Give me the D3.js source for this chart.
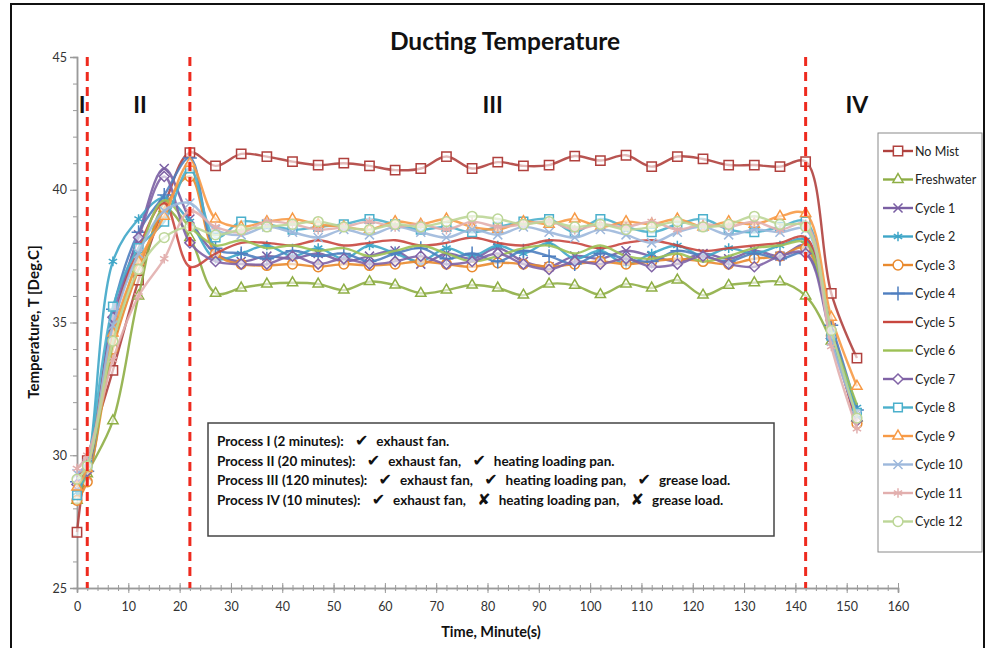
<!DOCTYPE html>
<html>
<head>
<meta charset="utf-8">
<script src="https://cdn.jsdelivr.net/npm/d3@7"></script>
<style>
  body { margin: 0; background: #fff; }
  text { font-family: Lato, "Open Sans", "DejaVu Sans", sans-serif; }
</style>
</head>
<body>
<svg id="chart" width="990" height="648"></svg>
<script>
const times = [0, 2, 7, 12, 17, 22, 27, 32, 37, 42, 47, 52, 57, 62, 67, 72, 77, 82, 87, 92, 97, 102, 107, 112, 117, 122, 127, 132, 137, 142, 147, 152];

const noMist = [27.1, 29.8, 33.2, 36.6, 39.4, 41.4, 40.9, 41.35, 41.25, 41.06, 40.93, 41.0, 40.9, 40.74, 40.8, 41.25, 40.8, 41.04, 40.9, 40.93, 41.27, 41.1, 41.3, 40.87, 41.25, 41.16, 40.93, 40.93, 40.87, 41.06, 36.1, 33.66];
const freshwater = [28.3, 29.3, 31.3, 36.0, 39.3, 38.2, 36.1, 36.3, 36.45, 36.5, 36.45, 36.22, 36.54, 36.41, 36.1, 36.22, 36.41, 36.3, 36.03, 36.45, 36.4, 36.05, 36.45, 36.3, 36.6, 36.03, 36.4, 36.5, 36.53, 36.0, 34.3, 31.4];
const cycle1 = [28.8, 29.2, 34.8, 38.3, 40.8, 38.9, 37.6, 37.3, 37.5, 37.4, 37.6, 37.3, 37.5, 37.7, 37.2, 37.6, 37.4, 37.8, 37.3, 37.1, 37.5, 37.4, 37.7, 37.5, 37.3, 37.6, 37.4, 37.7, 37.5, 37.9, 34.8, 31.6];
const cycle2 = [28.6, 29.5, 37.3, 38.9, 39.7, 38.8, 37.4, 37.6, 37.9, 37.5, 37.8, 37.4, 37.9, 37.6, 37.3, 37.8, 37.5, 37.9, 37.6, 38.0, 37.4, 37.7, 37.2, 37.6, 37.9, 37.5, 37.8, 37.6, 37.9, 38.1, 34.6, 31.8];
const cycle3 = [28.3, 29.0, 34.0, 37.0, 39.3, 40.5, 37.6, 37.2, 37.15, 37.2, 37.1, 37.2, 37.15, 37.2, 37.3, 37.2, 37.1, 37.25, 37.2, 37.1, 37.2, 37.3, 37.2, 37.3, 37.4, 37.3, 37.2, 37.4, 37.5, 37.8, 34.5, 31.2];
const cycle4 = [29.0, 29.4, 35.5, 38.4, 39.8, 41.2, 37.8, 37.6, 37.4, 37.7, 37.5, 37.6, 37.3, 37.6, 37.8, 37.4, 37.6, 37.3, 37.7, 37.5, 37.2, 37.6, 37.4, 37.3, 37.7, 37.5, 37.3, 37.6, 37.4, 37.6, 34.9, 31.7];
const cycle5 = [29.2, 29.8, 35.0, 37.8, 39.5, 37.1, 37.6, 38.0, 38.0, 37.9, 38.1, 37.9, 38.0, 38.1, 37.9, 38.0, 38.2, 38.0, 37.9, 38.1, 38.0, 37.8, 38.0, 38.1, 37.9, 37.7, 37.8, 37.9, 38.0, 38.2, 34.7, 31.1];
const cycle6 = [28.7, 29.3, 34.2, 37.5, 39.6, 38.6, 37.9, 38.1, 37.8, 37.9, 37.7, 37.8, 37.5, 37.7, 37.9, 37.6, 37.3, 37.5, 37.8, 37.9, 37.6, 37.9, 37.5, 37.4, 37.6, 37.3, 37.5, 37.8, 37.9, 38.0, 34.6, 31.9];
const cycle7 = [28.9, 29.4, 35.2, 38.2, 40.5, 38.0, 37.3, 37.2, 37.2, 37.5, 37.2, 37.4, 37.2, 37.3, 37.5, 37.2, 37.3, 37.6, 37.2, 37.0, 37.3, 37.2, 37.4, 37.1, 37.2, 37.5, 37.2, 37.1, 37.5, 37.6, 34.4, 31.3];
const cycle8 = [28.5, 29.6, 35.6, 37.8, 38.8, 40.8, 38.2, 38.8, 38.7, 38.5, 38.6, 38.7, 38.9, 38.7, 38.5, 38.6, 38.4, 38.6, 38.8, 38.9, 38.4, 38.9, 38.6, 38.4, 38.7, 38.9, 38.5, 38.4, 38.6, 38.8, 34.5, 31.6];
const cycle9 = [28.8, 29.5, 34.6, 37.3, 39.0, 41.0, 38.9, 38.6, 38.8, 38.9, 38.7, 38.6, 38.5, 38.8, 38.7, 38.9, 38.6, 38.5, 38.8, 38.7, 38.9, 38.6, 38.8, 38.7, 38.9, 38.6, 38.8, 38.7, 39.0, 39.1, 35.2, 32.6];
const cycle10 = [29.3, 29.7, 34.9, 37.6, 39.2, 39.5, 38.5, 38.3, 38.6, 38.4, 38.2, 38.5, 38.3, 38.6, 38.4, 38.2, 38.5, 38.3, 38.6, 38.4, 38.2, 38.5, 38.3, 38.0, 38.4, 38.6, 38.3, 38.5, 38.4, 38.5, 34.3, 31.5];
const cycle11 = [29.5, 30.0, 33.6, 36.0, 37.4, 39.2, 38.6, 38.4, 38.8, 38.7, 38.5, 38.6, 38.8, 38.6, 38.7, 38.5, 38.8, 38.6, 38.7, 38.8, 38.5, 38.7, 38.6, 38.8, 38.5, 38.7, 38.6, 38.8, 38.5, 38.7, 34.1, 31.0];
const cycle12 = [29.1, 29.6, 34.3, 37.0, 38.2, 38.6, 38.3, 38.5, 38.6, 38.7, 38.8, 38.6, 38.5, 38.7, 38.6, 38.8, 39.0, 38.9, 38.7, 38.8, 38.6, 38.7, 38.5, 38.6, 38.8, 38.6, 38.7, 39.0, 38.7, 38.6, 34.7, 31.4];

const seriesNames = ["No Mist", "Freshwater", "Cycle 1", "Cycle 2", "Cycle 3", "Cycle 4", "Cycle 5", "Cycle 6", "Cycle 7", "Cycle 8", "Cycle 9", "Cycle 10", "Cycle 11", "Cycle 12"];
const seriesValues = [noMist, freshwater, cycle1, cycle2, cycle3, cycle4, cycle5, cycle6, cycle7, cycle8, cycle9, cycle10, cycle11, cycle12];

const phaseBounds = [2, 22, 142];
const phaseLabels = [["I", 1], ["II", 12.3], ["III", 81], ["IV", 152]];
const xTicks = d3.range(0, 161, 10);
const yTicks = [25, 30, 35, 40, 45];
const notes = [
	["Process I (2 minutes): ", "✔", "exhaust fan."],
	["Process II (20 minutes): ", "✔", "exhaust fan, ", "✔", "heating loading pan."],
	["Process III (120 minutes): ", "✔", "exhaust fan, ", "✔", "heating loading pan, ", "✔", "grease load."],
	["Process IV (10 minutes): ", "✔", "exhaust fan, ", "✘", "heating loading pan, ", "✘", "grease load."],
];

const colors = ["#B0413E", "#8EAE45", "#7A5FA3", "#3FA6C8", "#E98A2E", "#4F7FC0", "#C8473F", "#9CC155", "#8063A6", "#4BB0CC", "#F79A46", "#9DB8DC", "#E2AFAE", "#BCD697"];
const shapes = [d3.symbolSquare2 || d3.symbolSquare, d3.symbolTriangle2 || d3.symbolTriangle, d3.symbolTimes || d3.symbolCross, d3.symbolAsterisk || d3.symbolCross, d3.symbolCircle, d3.symbolPlus || d3.symbolCross, null, null, d3.symbolDiamond2 || d3.symbolDiamond, d3.symbolSquare2 || d3.symbolSquare, d3.symbolTriangle2 || d3.symbolTriangle, d3.symbolTimes || d3.symbolCross, d3.symbolAsterisk || d3.symbolCross, d3.symbolCircle];
const shapeSize = [110, 75, 55, 65, 75, 65, 0, 0, 65, 95, 75, 55, 65, 75];

const svg = d3.select("#chart");

// outer frame of the screenshot
svg.append("path")
	.attr("d", "M11,660V4H984V660")
	.attr("fill", "none")
	.attr("stroke", "#111")
	.attr("stroke-width", 2);

const x = d3.scaleLinear().domain([0, 160]).range([77, 898]);
const y = d3.scaleLinear().domain([25, 45]).range([588, 57]);

// axes
const gx = svg.append("g").attr("transform", `translate(0,${y(25)})`);
gx.call(d3.axisBottom(x).tickValues(d3.range(0, 161, 2)).tickSize(4).tickFormat(""));
gx.call((g) => g.selectAll(".tick line").attr("y1", -3).attr("y2", 3));
const gx2 = svg.append("g").attr("transform", `translate(0,${y(25)})`);
gx2.call(d3.axisBottom(x).tickValues(xTicks).tickSize(5));
gx2.call((g) => g.selectAll(".tick line").attr("y1", -5).attr("y2", 5));
gx2.call((g) => g.selectAll(".tick text").attr("dy", 0).attr("y", 23).style("font-size", "12.5px").attr("fill", "#333"));
[gx, gx2].forEach((g) => {
	g.select(".domain").attr("stroke", "#9a9a9a").attr("stroke-width", 1.5);
	g.selectAll(".tick line").attr("stroke", "#9a9a9a");
});

const gy = svg.append("g").attr("transform", `translate(${x(0)},0)`);
gy.call(d3.axisLeft(y).tickValues(d3.range(25, 46, 1)).tickSize(4).tickFormat(""));
const gy2 = svg.append("g").attr("transform", `translate(${x(0)},0)`);
gy2.call(d3.axisLeft(y).tickValues(yTicks).tickSize(7));
gy2.call((g) => g.selectAll(".tick text").attr("x", -10).style("font-size", "12.5px").attr("fill", "#333"));
[gy, gy2].forEach((g) => {
	g.select(".domain").attr("stroke", "#9a9a9a").attr("stroke-width", 1.5);
	g.selectAll(".tick line").attr("stroke", "#9a9a9a");
});

// series
const line = d3.line()
	.x((d) => x(d[0]))
	.y((d) => y(d[1]))
	.curve(d3.curveCatmullRom.alpha(0.5));

seriesValues.forEach((vals, i) => {
	const pts = times.map((t, k) => [t, vals[k]]);
	svg.append("path")
		.datum(pts)
		.attr("d", line)
		.attr("fill", "none")
		.attr("stroke", colors[i])
		.attr("stroke-width", 2.4)
		.attr("stroke-opacity", 0.9);
	if (shapes[i]) {
		svg.append("g")
			.selectAll("path")
			.data(pts)
			.join("path")
			.attr("transform", (d) => `translate(${x(d[0])},${y(d[1])})`)
			.attr("d", d3.symbol(shapes[i], shapeSize[i]))
			.attr("fill", "rgba(255,255,255,0.6)")
			.attr("stroke", colors[i])
			.attr("stroke-width", 1.5);
	}
});

// phase boundaries
svg.append("g")
	.selectAll("line")
	.data(phaseBounds)
	.join("line")
	.attr("x1", (d) => x(d))
	.attr("x2", (d) => x(d))
	.attr("y1", y(45))
	.attr("y2", y(25))
	.attr("stroke", "#EE2A1E")
	.attr("stroke-width", 3)
	.attr("stroke-dasharray", "9,6");

svg.append("g")
	.selectAll("text")
	.data(phaseLabels)
	.join("text")
	.attr("x", (d) => x(d[1]))
	.attr("y", 113)
	.attr("text-anchor", "middle")
	.style("font-size", "23px")
	.style("font-weight", "bold")
	.attr("fill", "#111")
	.text((d) => d[0]);

// title and axis labels
svg.append("text")
	.attr("x", 505)
	.attr("y", 50)
	.attr("text-anchor", "middle")
	.style("font-size", "24.5px")
	.style("font-weight", "bold")
	.attr("fill", "#111")
	.text("Ducting Temperature");

svg.append("text")
	.attr("x", 491)
	.attr("y", 637)
	.attr("text-anchor", "middle")
	.style("font-size", "14.5px")
	.style("font-weight", "bold")
	.attr("fill", "#111")
	.text("Time, Minute(s)");

svg.append("text")
	.attr("transform", "translate(39,322) rotate(-90)")
	.attr("text-anchor", "middle")
	.style("font-size", "15px")
	.style("font-weight", "bold")
	.attr("fill", "#111")
	.text("Temperature, T [Deg.C]");

// annotation box
svg.append("rect")
	.attr("x", 208)
	.attr("y", 423)
	.attr("width", 566)
	.attr("height", 113)
	.attr("fill", "#fff")
	.attr("stroke", "#444")
	.attr("stroke-width", 1.5);

svg.append("g")
	.selectAll("text")
	.data(notes)
	.join("text")
	.attr("x", 217)
	.attr("y", (d, i) => 446 + i * 19.7)
	.style("font-size", "13.5px")
	.style("font-weight", "bold")
	.attr("fill", "#111")
	.selectAll("tspan")
	.data((d) => d)
	.join("tspan")
	.attr("dx", (s, k) => (k > 0 ? 8 : 0))
	.style("font-family", (s) => (s === "✔" || s === "✘" ? "DejaVu Sans" : null))
	.style("font-size", (s) => (s === "✔" || s === "✘" ? "16px" : null))
	.text((s) => s);

// legend
const lg = svg.append("g");
lg.append("rect")
	.attr("x", 878)
	.attr("y", 133)
	.attr("width", 104)
	.attr("height", 419)
	.attr("fill", "#fff")
	.attr("stroke", "#8a8a8a");

const lrow = lg.selectAll("g")
	.data(seriesNames)
	.join("g")
	.attr("transform", (d, i) => `translate(0,${151 + i * 28.5})`);
lrow.append("line")
	.attr("x1", 883)
	.attr("x2", 913)
	.attr("stroke", (d, i) => colors[i])
	.attr("stroke-width", 2.4);
lrow.filter((d, i) => shapes[i])
	.append("path")
	.attr("transform", "translate(898,0)")
	.attr("d", (d) => d3.symbol(shapes[seriesNames.indexOf(d)], shapeSize[seriesNames.indexOf(d)])())
	.attr("fill", "#fff")
	.attr("stroke", (d) => colors[seriesNames.indexOf(d)])
	.attr("stroke-width", 1.5);
lrow.append("text")
	.attr("x", 915)
	.attr("y", 4.5)
	.style("font-size", "12.5px")
	.attr("fill", "#222")
	.text((d) => d);
</script>
</body>
</html>
